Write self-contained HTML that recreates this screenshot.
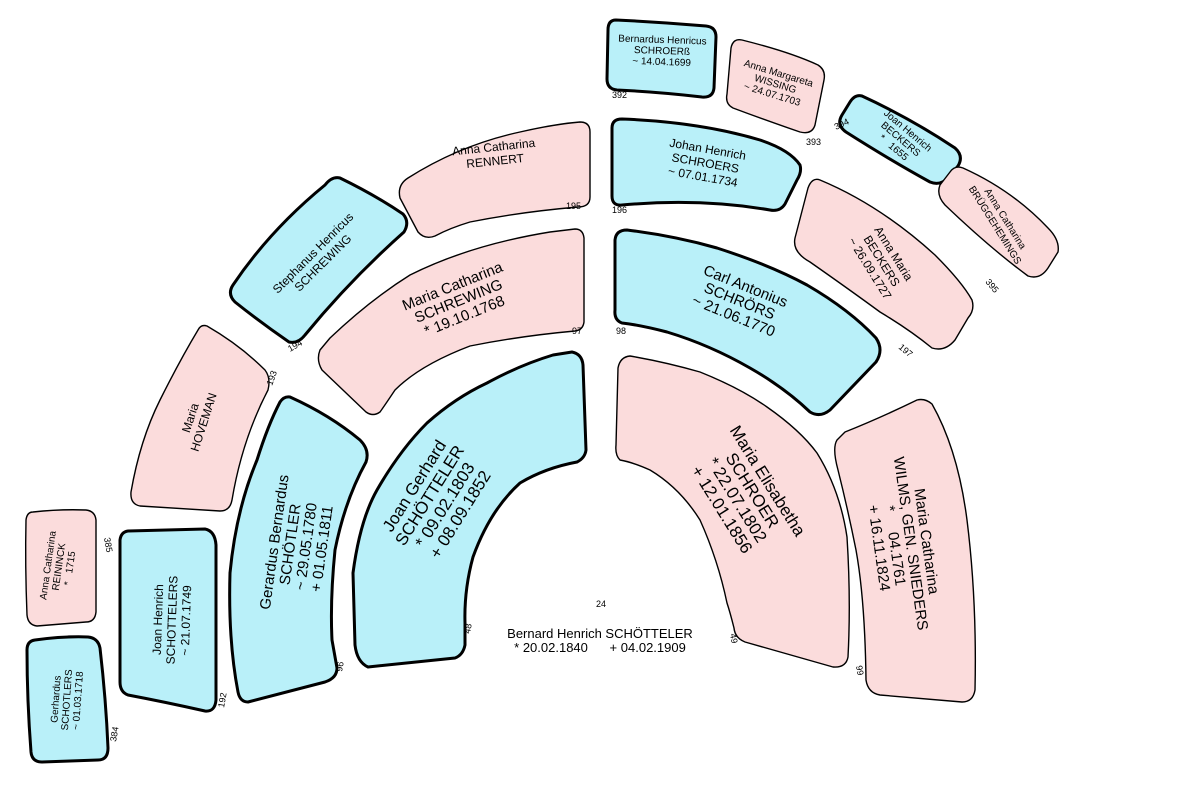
<!DOCTYPE html>
<html><head><meta charset="utf-8"><style>
html,body{margin:0;padding:0;background:#fff;}
svg{display:block;font-family:"Liberation Sans",sans-serif;}
.b{fill:#b9f0f9;stroke:#000;stroke-width:3;stroke-linejoin:round}
.p{fill:#fbdcdc;stroke:#000;stroke-width:1.4;stroke-linejoin:round}
.n{font-size:9px;fill:#000}
text{fill:#000}
</style></head><body>
<svg width="1204" height="787" viewBox="0 0 1204 787">
<!-- 48 -->
<path class="b" d="M368,667 Q357,662 355,645 L353,573 Q360,520 377,490 Q400,450 427,423 Q455,398 487,383 Q520,365 553,355 L572,352 Q582,354 583,365 L586,450 Q585,458 577,462 Q545,468 520,483 Q490,510 473,557 Q464,590 465,623 L465,645 Q463,655 455,658 Z"/>
<!-- 49 -->
<path class="p" d="M630,356 Q665,362 700,372 Q740,388 767,407 Q800,430 817,453 Q840,490 847,537 Q851,600 848,657 Q846,668 833,667 L745,642 Q735,638 734,628 Q730,612 727,603 Q718,560 700,520 Q680,488 650,470 Q632,462 620,460 Q615,455 616,445 L618,368 Q620,357 630,356 Z"/>
<!-- 96 -->
<path class="b" d="M290,397 Q330,415 360,440 Q370,450 366,462 Q345,500 335,550 Q330,600 332,640 L337,668 Q337,678 325,682 L248,702 Q240,702 238,692 Q228,640 230,573 Q236,510 257,460 Q268,425 280,402 Q284,396 290,397 Z"/>
<!-- 99 -->
<path class="p" d="M845,432 Q880,418 917,400 Q925,398 932,404 Q958,450 967,520 Q977,600 975,690 Q973,702 962,702 L880,695 Q868,693 866,680 Q865,600 856,550 Q848,510 838,470 Q832,448 837,440 Z"/>
<!-- 97 -->
<path class="p" d="M330,338 Q370,300 410,275 Q470,245 550,232 L575,229 Q583,229 584,238 L584,322 Q583,330 575,331 Q520,336 470,346 Q420,365 395,390 Q385,405 380,412 Q373,417 366,412 L322,370 Q316,360 320,350 Z"/>
<!-- 98 -->
<path class="b" d="M627,230 Q675,236 717,248 Q770,265 807,285 Q850,310 876,338 Q884,350 876,362 L830,410 Q820,418 810,412 Q785,388 750,368 Q710,345 667,332 Q640,325 622,323 Q614,320 615,310 L615,240 Q616,230 627,230 Z"/>
<!-- 192 -->
<path class="b" d="M128,531 Q170,530 205,529 Q215,531 216,545 L216,700 Q215,712 205,711 Q165,702 128,695 Q120,692 120,682 L120,540 Q121,532 128,531 Z"/>
<!-- 193 -->
<path class="p" d="M207,326 Q240,345 265,370 Q271,378 268,390 Q242,440 232,500 Q230,511 220,511 L140,506 Q130,504 131,492 Q140,440 160,400 Q180,360 198,330 Q201,324 207,326 Z"/>
<!-- 194 -->
<path class="b" d="M340,178 Q375,195 403,214 Q410,222 404,232 Q350,280 305,335 Q298,344 289,342 Q260,322 235,302 Q227,294 233,285 Q270,230 325,185 Q332,176 340,178 Z"/>
<!-- 195 -->
<path class="p" d="M408,178 Q460,145 520,132 Q555,124 580,122 Q590,122 590,132 L590,197 Q590,207 578,207 Q520,212 470,222 Q450,228 435,236 Q425,240 418,232 L400,198 Q397,185 408,178 Z"/>
<!-- 196 -->
<path class="b" d="M622,119 Q700,122 760,140 Q790,150 800,165 Q802,172 797,180 L785,204 Q780,212 770,210 Q700,198 622,205 Q612,206 612,196 L612,128 Q612,119 622,119 Z"/>
<!-- 197 -->
<path class="p" d="M820,180 Q880,205 935,255 Q962,282 972,300 Q975,310 968,318 L955,340 Q945,352 932,348 Q910,330 880,312 Q850,290 810,262 Q792,252 795,238 L808,188 Q812,177 820,180 Z"/>
<!-- 384 -->
<path class="b" d="M35,640 Q65,636 88,637 Q98,638 100,648 Q106,700 108,748 Q108,760 98,760 L42,762 Q32,762 31,752 Q27,700 27,650 Q27,641 35,640 Z"/>
<!-- 385 -->
<path class="p" d="M33,512 Q60,509 86,510 Q95,511 96,520 L96,612 Q95,622 86,622 L37,626 Q28,625 27,615 Q25,565 26,520 Q27,512 33,512 Z"/>
<!-- 392 -->
<path class="b" d="M616,20 Q660,22 706,26 Q716,27 716,37 L714,88 Q713,98 702,97 Q660,92 617,90 Q607,89 607,79 L608,30 Q608,20 616,20 Z"/>
<!-- 393 -->
<path class="p" d="M742,40 Q790,52 818,65 Q826,70 824,80 L815,125 Q812,135 800,132 Q765,120 733,108 Q725,104 727,94 L731,48 Q733,38 742,40 Z"/>
<!-- 394 -->
<path class="b" d="M862,96 Q910,118 955,148 Q964,156 958,166 L948,178 Q940,186 930,182 Q890,160 846,132 Q836,125 842,115 L850,102 Q855,94 862,96 Z"/>
<!-- 395 -->
<path class="p" d="M963,168 Q1012,190 1048,228 Q1060,240 1058,252 L1048,268 Q1040,280 1028,276 Q990,248 945,205 Q936,195 940,185 L950,172 Q955,165 963,168 Z"/>

<!-- labels -->
<g font-size="17" text-anchor="middle">
<g transform="translate(437,500) rotate(-58)">
<text y="-21">Joan Gerhard</text><text y="-3">SCHÖTTELER</text><text y="15">* 09.02.1803</text><text y="33">+ 08.09.1852</text></g>
<g transform="translate(745,495) rotate(58)">
<text y="-21">Maria Elisabetha</text><text y="-3">SCHROER</text><text y="15">* 22.07.1802</text><text y="33">+ 12.01.1856</text></g>
</g>
<g font-size="15" text-anchor="middle">
<g transform="translate(295,545) rotate(-82)">
<text y="-16">Gerardus Bernardus</text><text y="0">SCHÖTLER</text><text y="16">~ 29.05.1780</text><text y="32">+ 01.05.1811</text></g>
<g transform="translate(900,545) rotate(82)">
<text y="-22">Maria Catharina</text><text y="-6">WILMS, GEN. SNIEDERS</text><text y="10">*&#160;&#160;&#160;&#160; 04.1761</text><text y="26">+ 16.11.1824</text></g>
<g transform="translate(458,300) rotate(-22)">
<text y="-10">Maria Catharina</text><text y="6">SCHREWING</text><text y="22">* 19.10.1768</text></g>
<g transform="translate(740,300) rotate(22)">
<text y="-10">Carl Antonius</text><text y="6">SCHRÖRS</text><text y="22">~ 21.06.1770</text></g>
</g>
<g font-size="12" text-anchor="middle">
<g transform="translate(172,620) rotate(-88)">
<text y="-10">Joan Henrich</text><text y="4">SCHOTTELERS</text><text y="18">~ 21.07.1749</text></g>
<g transform="translate(197,420) rotate(-72)">
<text y="-3">Maria</text><text y="11">HOVEMAN</text></g>
<g transform="translate(318,258) rotate(-45)">
<text y="-3">Stephanus Henricus</text><text y="11">SCHREWING</text></g>
<g transform="translate(495,160) rotate(-6)">
<text y="-9">Anna Catharina</text><text y="5">RENNERT</text></g>
<g transform="translate(705,165) rotate(10)">
<text y="-12">Johan Henrich</text><text y="2">SCHROERS</text><text y="16">~ 07.01.1734</text></g>
<g transform="translate(880,262) rotate(58)">
<text y="-12">Anna Maria</text><text y="2">BECKERS</text><text y="16">~ 26.09.1727</text></g>
</g>
<g font-size="10" text-anchor="middle">
<g transform="translate(68,700) rotate(-86)">
<text y="-9">Gerhardus</text><text y="2">SCHOTLERS</text><text y="13">~ 01.03.1718</text></g>
<g transform="translate(60,567) rotate(-82)">
<text y="-9">Anna Catharina</text><text y="2">REININCK</text><text y="13">*&#160;&#160; 1715</text></g>
<g transform="translate(662,52) rotate(2)">
<text y="-9">Bernardus Henricus</text><text y="2">SCHROERß</text><text y="13">~ 14.04.1699</text></g>
<g transform="translate(775,85) rotate(17)">
<text y="-9">Anna Margareta</text><text y="2">WISSING</text><text y="13">~ 24.07.1703</text></g>
<g transform="translate(900,140) rotate(40)">
<text y="-9">Joan Henrich</text><text y="2">BECKERS</text><text y="13">*&#160;&#160; 1655</text></g>
<g transform="translate(1000,222) rotate(58)">
<text y="-3">Anna Catharina</text><text y="9">BRÜGGEHEMINGS</text></g>
</g>
<g font-size="13" text-anchor="middle">
<text x="600" y="638">Bernard Henrich SCHÖTTELER</text>
<text x="600" y="652">* 20.02.1840&#160;&#160;&#160;&#160;&#160; + 04.02.1909</text>
</g>
<!-- numbers -->
<text class="n" x="596" y="607">24</text>
<text class="n" transform="translate(470,634) rotate(-80)">48</text>
<text class="n" transform="translate(730,634) rotate(80)">49</text>
<text class="n" transform="translate(342,672) rotate(-80)">96</text>
<text class="n" x="572" y="334">97</text>
<text class="n" x="616" y="334">98</text>
<text class="n" transform="translate(856,666) rotate(80)">99</text>
<text class="n" transform="translate(224,708) rotate(-80)">192</text>
<text class="n" transform="translate(272,386) rotate(-70)">193</text>
<text class="n" transform="translate(290,352) rotate(-30)">194</text>
<text class="n" x="566" y="209">195</text>
<text class="n" x="612" y="213">196</text>
<text class="n" transform="translate(898,348) rotate(40)">197</text>
<text class="n" transform="translate(116,742) rotate(-80)">384</text>
<text class="n" transform="translate(104,538) rotate(80)">385</text>
<text class="n" x="612" y="98">392</text>
<text class="n" x="806" y="145">393</text>
<text class="n" transform="translate(836,130) rotate(-25)">394</text>
<text class="n" transform="translate(985,282) rotate(50)">395</text>
</svg>
</body></html>
